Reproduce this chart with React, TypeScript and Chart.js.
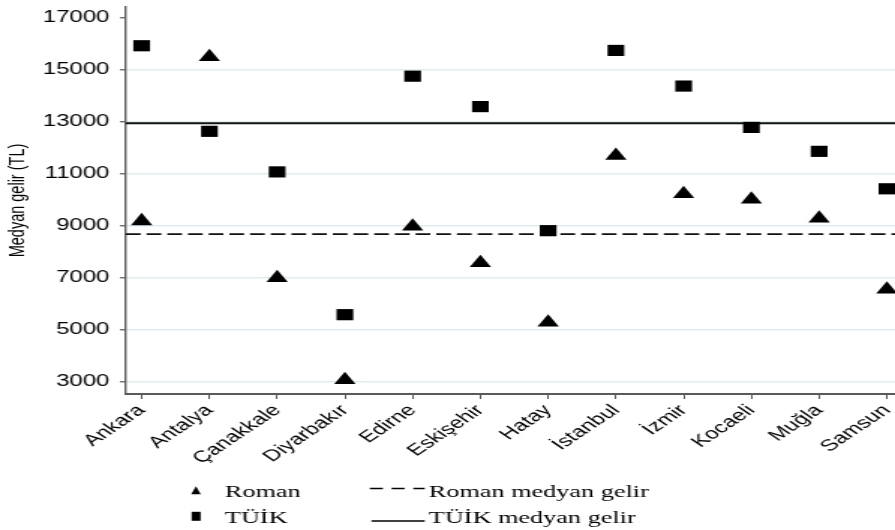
import { useEffect, useRef } from 'react';
import { Chart, registerables } from 'chart.js';

Chart.register(...registerables);

// Provinces on the horizontal axis
const provinces = [
  'Ankara', 'Antalya', 'Çanakkale', 'Diyarbakır', 'Edirne', 'Eskişehir',
  'Hatay', 'İstanbul', 'İzmir', 'Kocaeli', 'Muğla', 'Samsun',
];

// Median income per province (TL)
const romanIncome = [9190, 15500, 7000, 3080, 8980, 7580, 5290, 11700, 10230, 10020, 9290, 6560];
const tuikIncome = [15930, 12640, 11080, 5590, 14760, 13590, 8820, 15750, 14380, 12790, 11870, 10430];

// Overall medians drawn as horizontal reference lines
const romanMedian = 8690;
const tuikMedian = 12950;

const yTickValues = [3000, 5000, 7000, 9000, 11000, 13000, 15000, 17000];

const seriesLabels = ['Roman', 'TÜİK'];
const medianLabels = ['Roman medyan gelir', 'TÜİK medyan gelir'];

// The chart is laid out on a narrower canvas and stretched horizontally on screen.
const CANVAS_W = 597;
const CANVAS_H = 530;
const X_MIN = -0.232;
const X_MAX = 11.12;
const Y_MIN = 2540;
const Y_MAX = 17420;

const SANS = 'Arial, "Liberation Sans", sans-serif';
const SERIF = '"Times New Roman", "Liberation Serif", serif';

// Two-column key below the axis: markers on the left, reference lines on the right.
const keyPlugin = {
  id: 'twoColumnKey',
  afterDraw(chart: Chart) {
    const ctx = chart.ctx;
    ctx.save();
    ctx.fillStyle = '#000';
    ctx.strokeStyle = '#000';

    // triangle marker
    ctx.beginPath();
    ctx.moveTo(130.7, 486.3);
    ctx.lineTo(133.9, 494.2);
    ctx.lineTo(127.5, 494.2);
    ctx.closePath();
    ctx.fill();
    // square marker
    ctx.fillRect(127.8, 511.8, 6, 9);

    ctx.font = `17.5px ${SERIF}`;
    ctx.textBaseline = 'alphabetic';
    ctx.textAlign = 'left';
    ctx.fillText(seriesLabels[0], 150, 496.5);
    ctx.fillText(seriesLabels[1], 150, 522.5);

    // dashed and solid line samples
    ctx.lineWidth = 1.3;
    ctx.setLineDash([8.7, 5.8]);
    ctx.beginPath();
    ctx.moveTo(246.7, 488.5);
    ctx.lineTo(283.3, 488.5);
    ctx.stroke();
    ctx.setLineDash([]);
    ctx.beginPath();
    ctx.moveTo(247.8, 521);
    ctx.lineTo(283.3, 521);
    ctx.stroke();

    ctx.fillText(medianLabels[0], 286, 496.5);
    ctx.fillText(medianLabels[1], 286, 522.5);
    ctx.restore();
  },
};

export default function App() {
  const canvasRef = useRef<HTMLCanvasElement>(null);

  useEffect(() => {
    const canvas = canvasRef.current;
    if (!canvas) return;

    const chart = new Chart(canvas, {
      type: 'scatter',
      data: {
        datasets: [
          {
            label: seriesLabels[0],
            data: romanIncome.map((y, i) => ({ x: i, y })),
            pointStyle: 'triangle',
            pointRadius: 8.2,
            pointHoverRadius: 8.2,
            backgroundColor: '#000',
            borderWidth: 0,
            clip: false,
          },
          {
            label: seriesLabels[1],
            data: tuikIncome.map((y, i) => ({ x: i, y })),
            pointStyle: 'rect',
            pointRadius: 7.9,
            pointHoverRadius: 7.9,
            backgroundColor: '#000',
            borderWidth: 0,
            clip: false,
          },
          {
            label: medianLabels[0],
            data: [
              { x: X_MIN, y: romanMedian },
              { x: X_MAX, y: romanMedian },
            ],
            showLine: true,
            borderColor: '#111',
            borderWidth: 1.8,
            borderDash: [9.8, 4],
            pointRadius: 0,
          },
          {
            label: medianLabels[1],
            data: [
              { x: X_MIN, y: tuikMedian },
              { x: X_MAX, y: tuikMedian },
            ],
            showLine: true,
            borderColor: '#111',
            borderWidth: 1.8,
            pointRadius: 0,
          },
        ],
      },
      options: {
        responsive: false,
        animation: false,
        devicePixelRatio: 1,
        layout: { autoPadding: false, padding: { top: 7, left: 0, right: 0, bottom: 0 } },
        plugins: {
          legend: { display: false },
          tooltip: { enabled: false },
        },
        scales: {
          x: {
            type: 'linear',
            min: X_MIN,
            max: X_MAX,
            afterBuildTicks: (scale: any) => {
              scale.ticks = provinces.map((_, i) => ({ value: i }));
            },
            afterFit: (scale: any) => {
              scale.height = CANVAS_H - 394;
              scale.paddingLeft = 0;
              scale.paddingRight = 0;
            },
            ticks: {
              autoSkip: false,
              minRotation: 45,
              maxRotation: 45,
              padding: 2,
              color: '#000',
              font: { family: SANS, size: 16 },
              callback: (v: any) => provinces[Number(v)] ?? '',
            },
            grid: {
              drawOnChartArea: false,
              drawTicks: true,
              tickLength: 5,
              tickColor: '#555',
              tickWidth: 1,
            },
            border: { display: true, color: '#5a5a5a', width: 2 },
          },
          y: {
            type: 'linear',
            min: Y_MIN,
            max: Y_MAX,
            afterBuildTicks: (scale: any) => {
              scale.ticks = yTickValues.map((value) => ({ value }));
            },
            afterFit: (scale: any) => {
              scale.width = 84;
              scale.paddingTop = 0;
              scale.paddingBottom = 0;
            },
            ticks: {
              padding: 7,
              color: '#000',
              font: { family: SANS, size: 16 },
              callback: (v: any) => String(v),
            },
            grid: {
              color: (c: any) =>
                c.tick && c.tick.value === yTickValues[yTickValues.length - 1]
                  ? 'rgba(0,0,0,0)'
                  : '#e1ecef',
              lineWidth: 1.5,
              drawTicks: true,
              tickLength: 4,
              tickColor: '#555',
              tickWidth: 1.2,
            },
            border: { display: true, color: '#5a5a5a', width: 1.4 },
            title: {
              display: true,
              text: 'Medyan gelir (TL)',
              color: '#000',
              font: { family: SANS, size: 14.5 },
              padding: { top: 3.5, bottom: 0 },
            },
          },
        },
      },
      plugins: [keyPlugin],
    });

    return () => chart.destroy();
  }, []);

  return (
    <div
      style={{
        position: 'fixed',
        left: 0,
        top: 0,
        width: 895,
        height: 530,
        overflow: 'hidden',
        background: '#fff',
      }}
    >
      <canvas
        ref={canvasRef}
        width={CANVAS_W}
        height={CANVAS_H}
        style={{ width: '895px', height: '530px', display: 'block' }}
      />
    </div>
  );
}
